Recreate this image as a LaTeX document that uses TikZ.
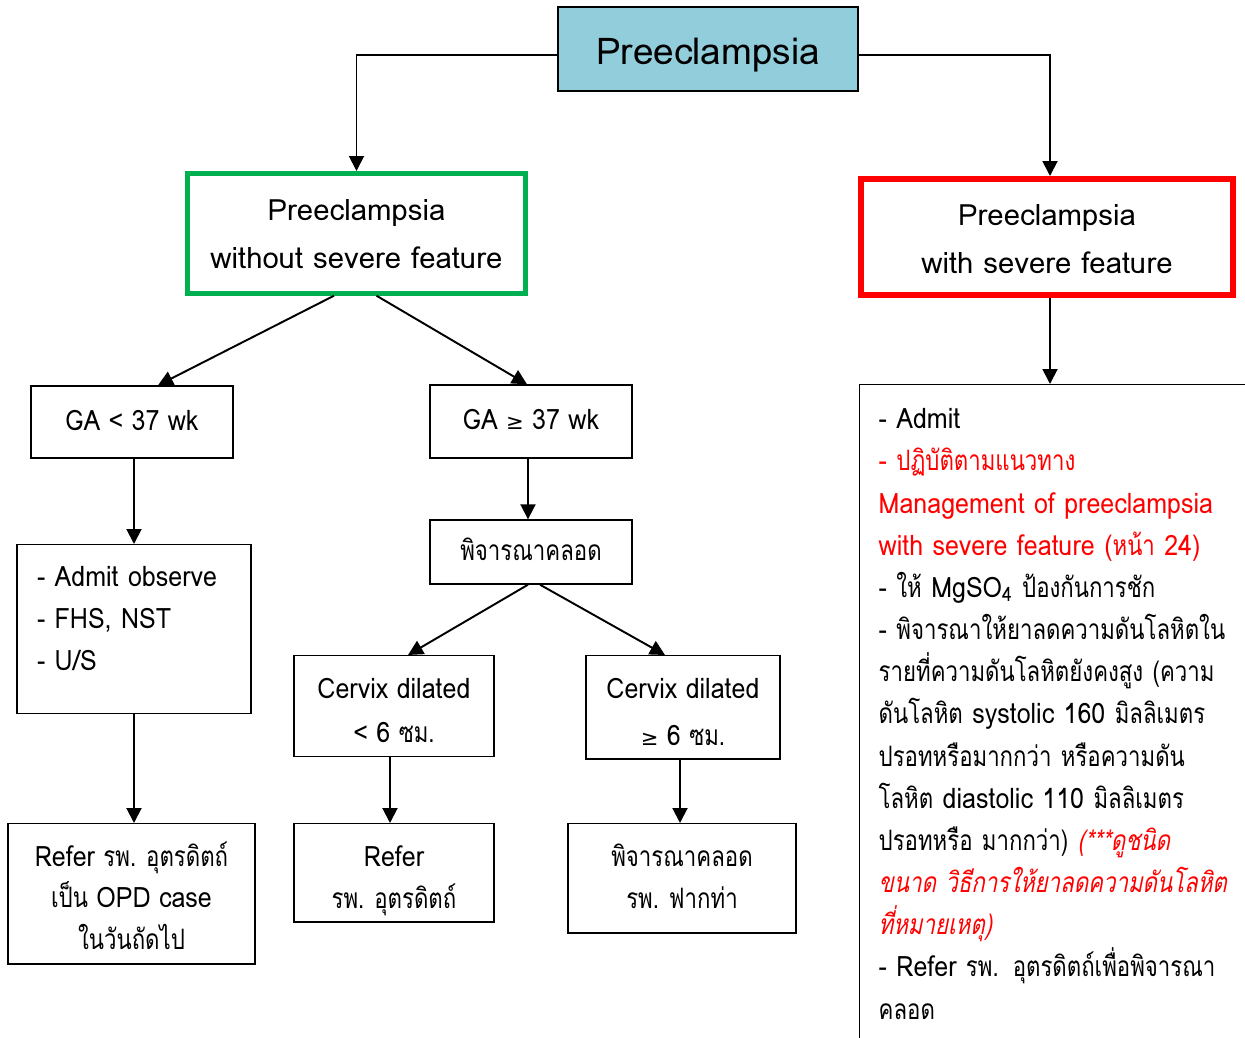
\documentclass[tikz,border=0pt]{standalone}
\usepackage{fontspec}
\setmainfont[Script=Thai]{Loma}
\newfontfamily\latinfont[Script=Thai,FakeStretch=0.89]{Loma}
\newfontfamily\thaifont[Script=Thai,FakeStretch=0.79]{Loma}
\newfontfamily\thaislant[Script=Thai,FakeStretch=0.79,FakeSlant=0.2]{Loma}
\newfontfamily\symfont{DejaVu Sans}
\newcommand\tf[1]{{\thaifont #1}}
\newcommand\geqsym{{\symfont\fontsize{12}{12}\selectfont ≥}}
\newcommand\topgap[1]{\rule{0pt}{#1}}
\newcommand\botgap[1]{\rule[-#1]{0pt}{#1}}
\usetikzlibrary{arrows.meta}
\definecolor{titleblue}{RGB}{146,205,220}
\definecolor{okgreen}{RGB}{0,176,80}
\definecolor{alertred}{RGB}{255,0,0}

\begin{document}
\begin{tikzpicture}[x=0.02cm, y=-0.02cm,
  conn/.style={-{Triangle[length=0.3cm,width=0.3cm]}, line width=1.1pt},
  plainbox/.style={draw=black, line width=0.8pt, align=center, inner sep=0pt,
    font=\latinfont\fontsize{16}{24}\selectfont, execute at begin node=\strut, execute at end node=\strut},
  stackbox/.style={plainbox, anchor=north},
  titlebox/.style={plainbox, fill=titleblue, line width=1.1pt, font=\rmfamily\fontsize{21}{25}\selectfont},
  greenbox/.style={stackbox, draw=okgreen, line width=2.8pt, font=\rmfamily\fontsize{16.7}{27.2}\selectfont},
  redbox/.style={stackbox, draw=alertred, line width=3.2pt, font=\rmfamily\fontsize{16.7}{27.6}\selectfont}]
\useasboundingbox (0,0) rectangle (1245,1038);

% top level
\node [titlebox, minimum width=6cm, minimum height=1.68cm] (title) at (708,49) {\raisebox{-0.16cm}{Preeclampsia}};
\node [greenbox, minimum width=6.76cm] (nosev) at (356.5,171)
  {\topgap{0.95cm}Preeclampsia\\without severe feature\botgap{0.49cm}};
\node [redbox, minimum width=7.44cm] (sev) at (1047,176)
  {\topgap{0.924cm}Preeclampsia\\with severe feature\botgap{0.424cm}};

% without severe feature
\node [plainbox, minimum width=4.04cm, minimum height=1.44cm] (galess) at (132,422) {GA < 37 wk};
\node [plainbox, minimum width=4.04cm, minimum height=1.46cm] (gamore) at (531,421.5) {GA \geqsym{} 37 wk};
\node [stackbox, align=left, text width=3.88cm, inner xsep=0.4cm, inner ysep=0.24cm] (obs) at (134,544)
  {- Admit observe\\- FHS, NST\\- U/S\botgap{0.62cm}};
\node [plainbox, minimum width=4.04cm, minimum height=1.28cm] (deliver) at (531,552) {\tf{พิจารณาคลอด}};
\node [stackbox, minimum width=4cm, font=\latinfont\fontsize{16}{25}\selectfont] (cxless) at (394,655)
  {\topgap{0.856cm}Cervix dilated\\< 6 \tf{ซม.}\botgap{0.276cm}};
\node [stackbox, minimum width=3.88cm, font=\latinfont\fontsize{16}{26.5}\selectfont] (cxmore) at (683,655)
  {\topgap{0.856cm}Cervix dilated\\\geqsym{} 6 \tf{ซม.}\botgap{0.256cm}};
\node [stackbox, minimum width=4.94cm, font=\latinfont\fontsize{16}{23.6}\selectfont] (opd) at (131.5,823)
  {\topgap{0.856cm}Refer \tf{รพ. อุตรดิตถ์}\\\tf{เป็น} OPD case\\\tf{ในวันถัดไป}\botgap{0.292cm}};
\node [stackbox, minimum width=4cm, font=\latinfont\fontsize{16}{23.8}\selectfont] (refer) at (394,823)
  {\topgap{0.856cm}Refer\\\tf{รพ. อุตรดิตถ์}\botgap{0.276cm}};
\node [stackbox, minimum width=4.56cm, font=\latinfont\fontsize{16}{23.8}\selectfont] (fakta) at (682,823)
  {\topgap{0.856cm}\tf{พิจารณาคลอด}\\\tf{รพ. ฟากท่า}\botgap{0.496cm}};

% with severe feature
\node [plainbox, anchor=north west, align=left, text width=8cm, inner xsep=0.38cm, inner ysep=0.29cm] (mgmt) at (859,384)
  {- Admit\\
   {\color{alertred}- \tf{ปฏิบัติตามแนวทาง}}\\
   {\color{alertred}Management of preeclampsia}\\
   {\color{alertred}with severe feature (\tf{หน้า} 24)}\\
   - \tf{ให้} MgSO\textsubscript{4} \tf{ป้องกันการชัก}\\
   - \tf{พิจารณาให้ยาลดความดันโลหิตใน}\\
   \tf{รายที่ความดันโลหิตยังคงสูง (ความ}\\
   \tf{ดันโลหิต} systolic 160 \tf{มิลลิเมตร}\\
   \tf{ปรอทหรือมากกว่า หรือความดัน}\\
   \tf{โลหิต} diastolic 110 \tf{มิลลิเมตร}\\
   \tf{ปรอทหรือ มากกว่า)} {\color{alertred}\thaislant (***ดูชนิด}\\
   {\color{alertred}\thaislant ขนาด วิธีการให้ยาลดความดันโลหิต}\\
   {\color{alertred}\thaislant ที่หมายเหตุ)}\\
   - Refer \tf{รพ. อุตรดิตถ์เพื่อพิจารณา}\\
   \tf{คลอด}\botgap{0.6cm}};

% connectors
\draw [conn] ([yshift=-0.12cm]title.west) -| (nosev.north);
\draw [conn] ([yshift=-0.12cm]title.east) -| ([xshift=0.06cm]sev.north);
\draw [conn] ([xshift=-0.45cm]nosev.south) -- ([xshift=0.52cm]galess.north);
\draw [conn] ([xshift=0.4cm]nosev.south) -- ([xshift=-0.08cm]gamore.north);
\draw [conn] (obs.north |- galess.south) -- (obs.north);
\draw [conn] (obs.south) -- (obs.south |- opd.north);
\draw [conn] ([xshift=-0.06cm]gamore.south) -- ([xshift=-0.06cm]deliver.north);
\draw [conn] ([xshift=-0.06cm]deliver.south) -- ([xshift=0.28cm]cxless.north);
\draw [conn] ([xshift=0.18cm]deliver.south) -- ([xshift=-0.36cm]cxmore.north);
\draw [conn] ([xshift=-0.08cm]cxless.south) -- ([xshift=-0.08cm]refer.north);
\draw [conn] ([xshift=-0.06cm]cxmore.south) -- ([xshift=-0.06cm]cxmore.south |- fakta.north);
\draw [conn] ([xshift=0.06cm]sev.south) -- ([xshift=0.06cm]sev.south |- mgmt.north);
\end{tikzpicture}
\end{document}
